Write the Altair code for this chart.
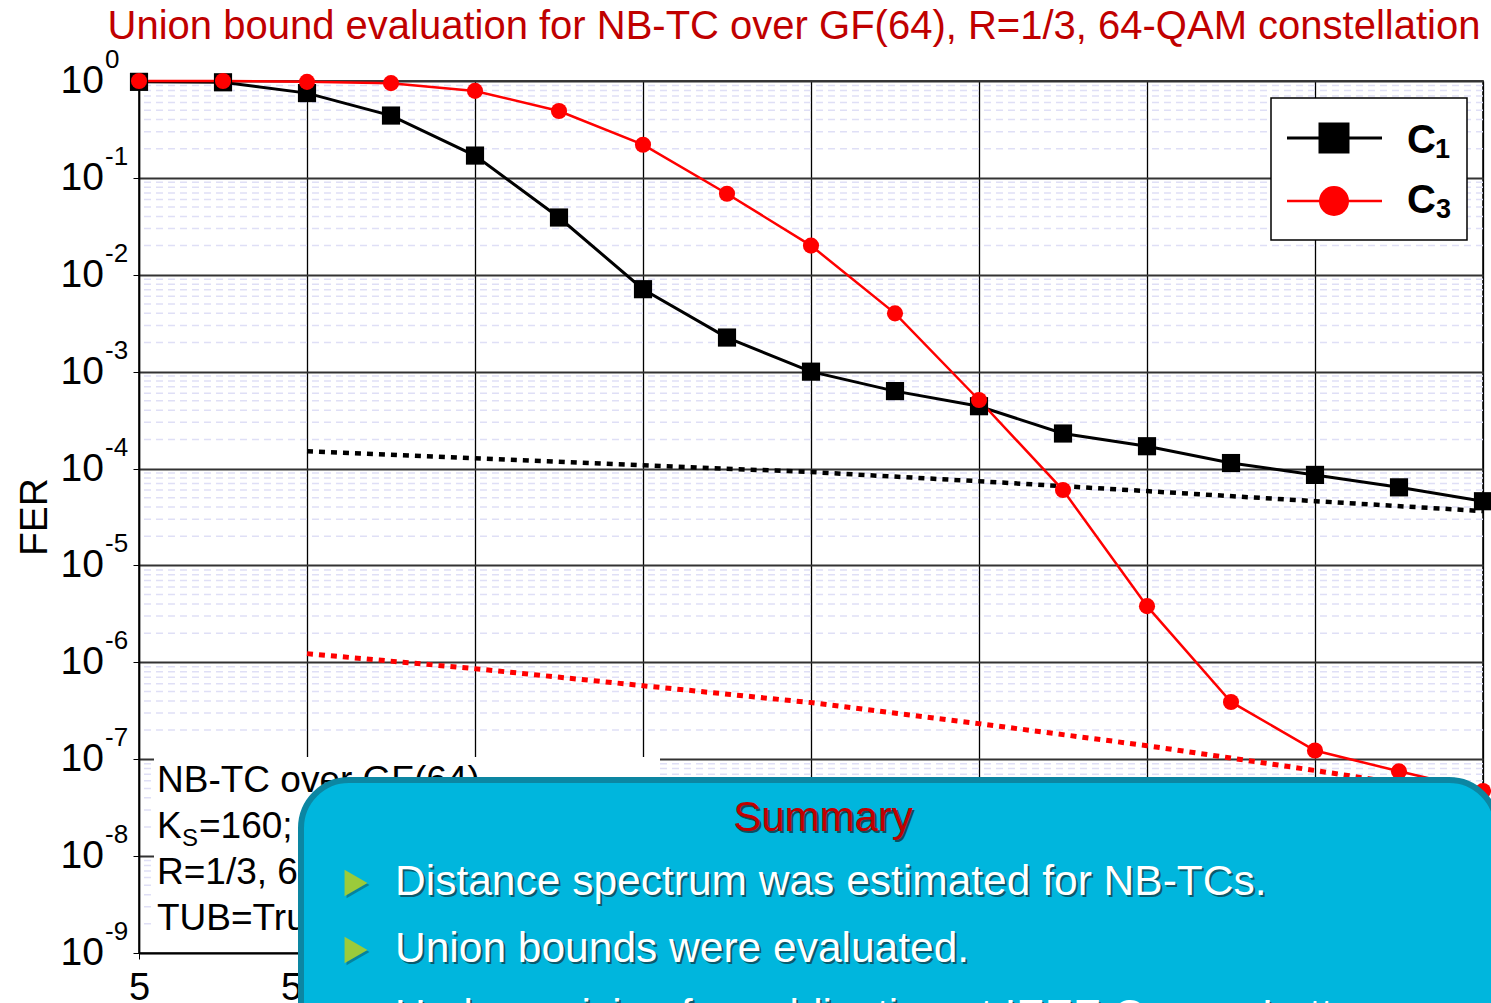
import altair as alt
import pandas as pd

FONT = "Liberation Sans"

# Eb/N0 grid (dB) and frame error rates of the two codes
snr = [5.0, 5.25, 5.5, 5.75, 6.0, 6.25, 6.5, 6.75, 7.0,
       7.25, 7.5, 7.75, 8.0, 8.25, 8.5, 8.75, 9.0]
fer_c1 = [0.98, 0.97, 0.75, 0.44, 0.17, 0.039, 0.0071, 0.00225, 0.00100,
          0.00063, 0.00044, 0.00023, 0.00017, 0.000114, 0.000086, 0.000064, 0.000046]
fer_c3 = [1.0, 1.0, 0.98, 0.95, 0.79, 0.49, 0.22, 0.0686, 0.020,
          0.0040, 5.1e-4, 6.0e-5, 3.8e-6, 3.9e-7, 1.23e-7, 7.5e-8, 4.7e-8]

# Truncated union bounds
tub_snr = [5.5, 6.0, 6.5, 7.0, 7.5, 8.0, 8.5, 9.0]
tub_c1 = [1.51e-4, 1.28e-4, 1.08e-4, 9.2e-5, 7.4e-5, 5.85e-5, 4.61e-5, 3.64e-5]
tub_c3 = [1.23e-6, 8.6e-7, 5.74e-7, 3.84e-7, 2.33e-7, 1.38e-7, 7.65e-8, 4.13e-8]

x_ticks = [5.0, 5.5, 6.0, 6.5, 7.0, 7.5, 8.0, 8.5, 9.0]
decades = [0, -1, -2, -3, -4, -5, -6, -7, -8, -9]

title_text = "Union bound evaluation for NB-TC over GF(64), R=1/3, 64-QAM constellation"
info_lines = ["NB-TC over GF(64)", "=160;", "R=1/3, 64-QAM", "TUB=Truncated Union Bound"]
summary_title = "Summary"
summary_items = ["Distance spectrum was estimated for NB-TCs.",
                 "Union bounds were evaluated.",
                 "Under revision for publication at IEEE Comm. Letters"]

W, H = 1344, 872

x_axis = alt.Axis(values=x_ticks, format="~g", grid=True, gridColor="black",
                  gridWidth=1.3, domainColor="black", domainWidth=1.5,
                  tickColor="black", tickSize=6, labelFontSize=38, labelFont=FONT,
                  labelColor="black", labelPadding=10, labelFlush=False,
                  title=None, zindex=0)
y_axis = alt.Axis(values=[10.0 ** e for e in decades], grid=True, gridColor="#333333",
                  gridWidth=2, domainColor="black", domainWidth=1.5,
                  tickColor="black", tickSize=6, labels=False, title=None, zindex=0)

X = alt.X("snr:Q", scale=alt.Scale(domain=[5, 9], nice=False, zero=False), axis=x_axis)
Y = alt.Y("fer:Q", scale=alt.Scale(type="log", domain=[1e-9, 1], nice=False), axis=y_axis)

one = alt.Data(values=[{}])


def note(txt, x, y, size, color="black", align="left", weight="normal",
         baseline="alphabetic", angle=0):
    return alt.Chart(one).mark_text(
        text=txt, align=align, baseline=baseline, fontSize=size, color=color,
        font=FONT, fontWeight=weight, angle=angle
    ).encode(x=alt.value(x), y=alt.value(y))


# minor log grid
minor = pd.DataFrame({"fer": [m * 10.0 ** e for e in range(-9, 0) for m in range(2, 10)]})
minor_grid = alt.Chart(minor).mark_rule(
    color="#DFDFF6", strokeDash=[7, 5], strokeWidth=1.5).encode(y=Y)

# y tick labels as 10^k
dec = pd.DataFrame({"fer": [10.0 ** e for e in decades],
                    "base": ["10"] * len(decades),
                    "exp": [str(e) for e in decades]})
ylab_base = alt.Chart(dec).mark_text(
    align="right", baseline="middle", fontSize=39, font=FONT, color="black"
).encode(y=Y, x=alt.value(-35), text="base:N")
ylab_exp = alt.Chart(dec).mark_text(
    align="left", baseline="middle", fontSize=26, font=FONT, color="black", dy=-21
).encode(y=Y, x=alt.value(-34), text="exp:N")

d1 = pd.DataFrame({"snr": snr, "fer": fer_c1})
d3 = pd.DataFrame({"snr": snr, "fer": fer_c3})
t1 = pd.DataFrame({"snr": tub_snr, "fer": tub_c1})
t3 = pd.DataFrame({"snr": tub_snr, "fer": tub_c3})

tub1 = alt.Chart(t1).mark_line(color="black", strokeWidth=4.5, strokeDash=[6, 6]).encode(x=X, y=Y)
tub3 = alt.Chart(t3).mark_line(color="#FF0000", strokeWidth=5, strokeDash=[6, 6]).encode(x=X, y=Y)
line1 = alt.Chart(d1).mark_line(color="black", strokeWidth=3).encode(x=X, y=Y)
line3 = alt.Chart(d3).mark_line(color="#FF0000", strokeWidth=2.5).encode(x=X, y=Y)
pts1 = alt.Chart(d1).mark_point(shape="square", filled=True, size=330,
                                color="black", opacity=1).encode(x=X, y=Y)
pts3 = alt.Chart(d3).mark_point(shape="circle", filled=True, size=260,
                                color="#FF0000", opacity=1).encode(x=X, y=Y)

# info box in the lower-left corner
info_box = alt.Chart(one).mark_rect(fill="white").encode(
    x=alt.value(15), x2=alt.value(521), y=alt.value(676), y2=alt.value(867))
info = [
    note(info_lines[0], 18, 711, 37),
    note("K", 18, 757, 37),
    note("S", 43, 765, 24),
    note(info_lines[1], 60, 757, 37),
    note(info_lines[2], 18, 803, 37),
    note(info_lines[3], 18, 849, 37),
]

# legend
legend = [
    alt.Chart(one).mark_rect(fill="white", stroke="black", strokeWidth=1.5).encode(
        x=alt.value(1132), x2=alt.value(1328), y=alt.value(17), y2=alt.value(159)),
    alt.Chart(one).mark_rule(color="black", strokeWidth=3).encode(
        x=alt.value(1148), x2=alt.value(1243), y=alt.value(57)),
    alt.Chart(one).mark_point(shape="square", filled=True, size=961, color="black",
                              opacity=1).encode(x=alt.value(1195), y=alt.value(57)),
    alt.Chart(one).mark_rule(color="#FF0000", strokeWidth=2.5).encode(
        x=alt.value(1148), x2=alt.value(1243), y=alt.value(120)),
    alt.Chart(one).mark_point(shape="circle", filled=True, size=900, color="#FF0000",
                              opacity=1).encode(x=alt.value(1195), y=alt.value(120)),
    note("C", 1268, 72, 40, weight="bold"),
    note("1", 1296, 77, 27, weight="bold"),
    note("C", 1268, 132, 40, weight="bold"),
    note("3", 1297, 137, 27, weight="bold"),
]

# summary panel laid over the lower part of the figure
panel = alt.Chart(one).mark_rect(
    fill="#00B6DD", stroke="#0C86A2", strokeWidth=6, cornerRadius=48
).encode(x=alt.value(162), x2=alt.value(1358), y=alt.value(699), y2=alt.value(1010))

panel_text = [
    note(summary_title, 686, 752, 42, color="#0A4F60", align="center"),
    note(summary_title, 684, 750, 42, color="#C00000", align="center"),
]
bullet_y = [802, 869, 936]
text_y = [814, 881, 948]
for by, ty, item in zip(bullet_y, text_y, summary_items):
    panel_text += [
        alt.Chart(one).mark_point(shape="triangle-right", filled=True, size=700,
                                  color="#0A4F60", opacity=0.5).encode(
            x=alt.value(219), y=alt.value(by + 2)),
        alt.Chart(one).mark_point(shape="triangle-right", filled=True, size=700,
                                  color="#9BCB3B", opacity=1).encode(
            x=alt.value(217), y=alt.value(by)),
        note(item, 258, ty + 2, 42.5, color="#0A5A6C"),
        note(item, 256, ty, 42.5, color="white"),
    ]

titles = [
    note(title_text, 655, -54, 40, color="#C00000", align="center", baseline="middle"),
    note("FER", -104, 436, 39, align="center", baseline="middle", angle=270),
]

chart = alt.layer(
    minor_grid, info_box, *info, tub1, tub3, line1, line3, pts1, pts3,
    ylab_base, ylab_exp, *legend, *titles, panel, *panel_text
).properties(
    width=W, height=H,
    autosize=alt.AutoSizeParams(type="none"),
    padding={"left": 139, "top": 81, "right": 8, "bottom": 50},
    background="white",
).configure_view(stroke="black", strokeWidth=1.5)

chart.save("out.html", embed_options={"renderer": "svg", "actions": False})
